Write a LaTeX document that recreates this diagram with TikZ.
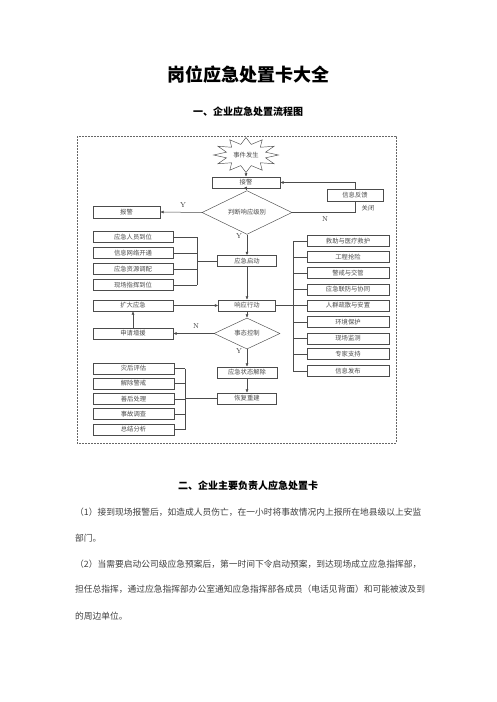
\documentclass[tikz,border=0pt]{standalone}
\usepackage{fontspec}
\newfontfamily\cjk{Noto Sans CJK SC}
\usetikzlibrary{shapes.geometric,arrows.meta}
\begin{document}
\begin{tikzpicture}[x=1pt,y=-1pt,
  bx/.style={draw=black!70, line width=0.45pt, inner sep=0pt, minimum height=11pt, font=\cjk\fontsize{6.3}{7}\selectfont, text=black!70},
  dm/.style={diamond, draw=black!70, line width=0.45pt, inner sep=0pt, font=\cjk\fontsize{6.3}{7}\selectfont, text=black!70},
  ln/.style={draw=black!70, line width=0.5pt},
  arr/.style={ln, -{Latex[length=3.5pt,width=3pt]}},
  lbl/.style={font=\fontsize{7}{8}\selectfont, text=black!80},
  sm/.style={font=\cjk\fontsize{6.3}{7}\selectfont, text=black!70},
  para/.style={anchor=west, inner sep=0pt, font=\cjk\fontsize{8.75}{10}\selectfont, text=black!75},
]
\useasboundingbox (0,0) rectangle (496,702);
\fill[white] (0,0) rectangle (496,702);

% headings
\node[font=\cjk\bfseries\fontsize{18}{20}\selectfont] (title) at (248,75) {岗位应急处置卡大全};
\node[font=\cjk\bfseries\fontsize{10}{12}\selectfont] (sub1) at (248,112) {一、企业应急处置流程图};

% frame
\draw[dash pattern=on 2pt off 1pt, black!60, line width=0.6pt] (77,136) rectangle (396,443);

% flowchart nodes
\node[star, star points=12, star point ratio=1.6, draw=black!70, line width=0.45pt, minimum size=35pt, inner sep=0pt, xscale=1.85] (burst) at (246,155) {};
\node[sm] (evt) at (246,155) {事件发生};
\node[bx, minimum width=68pt] (jj) at (246,182.5) {接警};
\node[dm, minimum width=90pt, minimum height=29pt] (d1) at (247,212.5) {判断响应级别};
\node[bx, minimum width=67pt, minimum height=12pt] (bj) at (126.5,212) {报警};
\node[bx, minimum width=56pt, minimum height=12pt] (xx) at (355,195) {信息反馈};

\node[bx, minimum width=80pt] (p1) at (133,237) {应急人员到位};
\node[bx, minimum width=80pt] (p2) at (133,253) {信息网络开通};
\node[bx, minimum width=80pt] (p3) at (133,269) {应急资源调配};
\node[bx, minimum width=80pt] (p4) at (133,285) {现场指挥到位};

\node[bx, minimum width=59pt] (qd) at (247,261) {应急启动};
\node[bx, minimum width=57pt] (xy) at (247,305.5) {响应行动};
\node[bx, minimum width=80pt] (kd) at (133,305.5) {扩大应急};
\node[bx, minimum width=80pt] (sq) at (133,333.5) {申请增援};
\node[dm, minimum width=66pt, minimum height=27pt] (d2) at (247,333.5) {事态控制};
\node[bx, minimum width=60pt] (jc) at (247,372.5) {应急状态解除};
\node[bx, minimum width=59pt] (hf) at (247,398.5) {恢复重建};

\node[bx, minimum width=81pt] (b1) at (133.5,368.5) {灾后评估};
\node[bx, minimum width=81pt] (b2) at (133.5,383.5) {解除警戒};
\node[bx, minimum width=81pt] (b3) at (133.5,399) {善后处理};
\node[bx, minimum width=81pt] (b4) at (133.5,414) {事故调查};
\node[bx, minimum width=81pt] (b5) at (133.5,429.5) {总结分析};

\node[bx, minimum width=82pt] (r1) at (348,241) {救助与医疗救护};
\node[bx, minimum width=82pt] (r2) at (348,257) {工程抢险};
\node[bx, minimum width=82pt] (r3) at (348,273) {警戒与交管};
\node[bx, minimum width=82pt] (r4) at (348,289.5) {应急联防与协同};
\node[bx, minimum width=82pt] (r5) at (348,305.5) {人群疏散与安置};
\node[bx, minimum width=82pt] (r6) at (348,322) {环境保护};
\node[bx, minimum width=82pt] (r7) at (348,338.5) {现场监测};
\node[bx, minimum width=82pt] (r8) at (348,354) {专家支持};
\node[bx, minimum width=82pt] (r9) at (348,371) {信息发布};

% labels
\node[lbl] (y1) at (183,205) {Y};
\node[lbl] (n1) at (325,219) {N};
\node[sm] (gb) at (368,208) {关闭};
\node[lbl] (y2) at (239,236) {Y};
\node[lbl] (n2) at (196,326) {N};
\node[lbl] (y3) at (239,351) {Y};

% connectors
\draw[arr] (burst.south) -- (jj.north);
\draw[arr] (jj.south) -- (d1.north);
\draw[arr] (d1.west) -- (bj.east);
\draw[ln] (d1.east) -| (xx.south);
\draw[arr] (xx.north) |- (jj.east);
\draw[arr] (d1.south) -- (qd.north);

\coordinate (bkl) at (197,261);
\foreach \n in {p1,p2,p3,p4} \draw[ln] (\n.east) -- (\n.east -| bkl);
\draw[ln] (p1.east -| bkl) -- (p4.east -| bkl);
\draw[ln] (bkl) -- (qd.west);

\draw[arr] (qd.south) -- (xy.north);
\draw[arr] (kd.east) -- (xy.west);
\draw[ln] (xy.east) -- (r5.west);
\coordinate (bkr) at (293,305.5);
\foreach \n in {r1,r2,r3,r4,r5,r6,r7,r8,r9} \draw[ln] (\n.west -| bkr) -- (\n.west);
\draw[ln] (r1.west -| bkr) -- (r9.west -| bkr);

\draw[arr] (xy.south) -- (d2.north);
\draw[arr] (d2.west) -- (sq.east);
\draw[arr] (sq.north) -- (kd.south);
\draw[arr] (d2.south) -- (jc.north);
\draw[arr] (jc.south) -- (hf.north);

\coordinate (bkb) at (185,398.5);
\draw[ln] (hf.west) -- (bkb);
\foreach \n in {b1,b2,b3,b4,b5} \draw[ln] (\n.east) -- (\n.east -| bkb);
\draw[ln] (b1.east -| bkb) -- (b5.east -| bkb);

% section 2
\node[font=\cjk\bfseries\fontsize{10}{12}\selectfont] (sub2) at (248,486) {二、企业主要负责人应急处置卡};
\node[para] (l1) at (75,512) {（1）接到现场报警后，如造成人员伤亡，在一小时将事故情况内上报所在地县级以上安监};
\node[para] (l2) at (75,538) {部门。};
\node[para] (l3) at (75,564) {（2）当需要启动公司级应急预案后，第一时间下令启动预案，到达现场成立应急指挥部，};
\node[para] (l4) at (75,589) {担任总指挥，通过应急指挥部办公室通知应急指挥部各成员（电话见背面）和可能被波及到};
\node[para] (l5) at (75,616) {的周边单位。};
\end{tikzpicture}
\end{document}
